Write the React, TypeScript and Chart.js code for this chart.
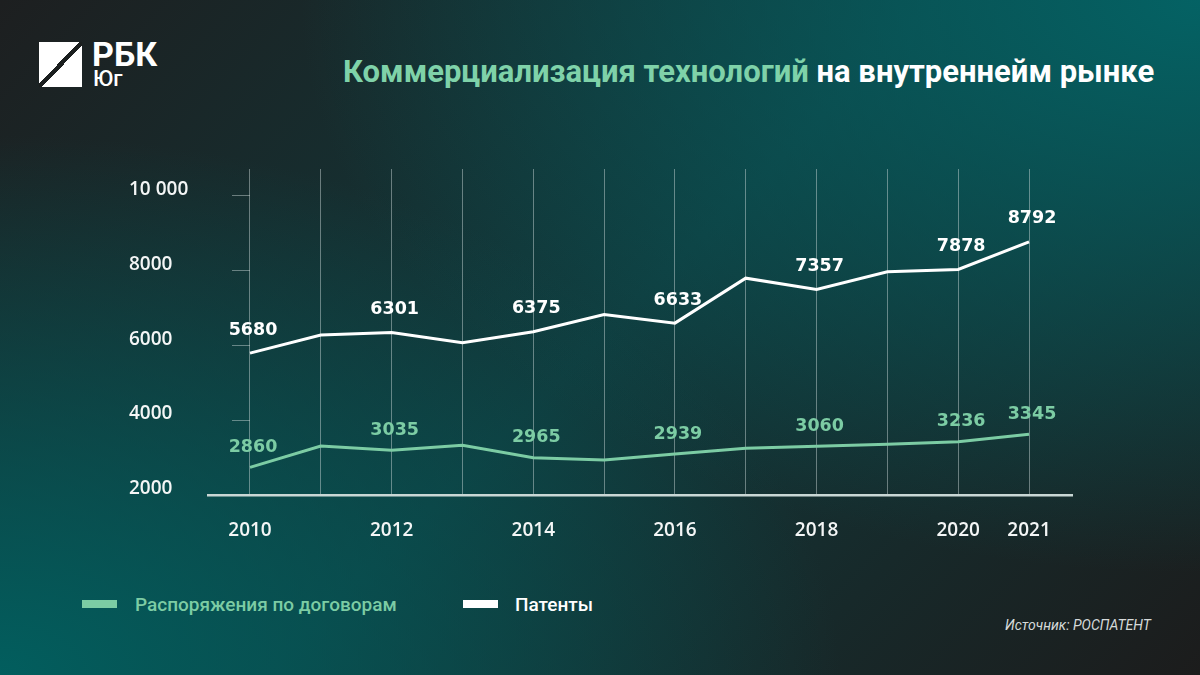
import React, { useEffect, useRef } from "react";
import { Chart, registerables } from "chart.js";

Chart.register(...registerables);

// ---- data ----
const years = [2010, 2011, 2012, 2013, 2014, 2015, 2016, 2017, 2018, 2019, 2020, 2021];
const patents = [5787, 6267, 6339, 6061, 6355, 6818, 6587, 7787, 7485, 7955, 8018, 8755];
const contracts = [2738, 3307, 3192, 3325, 2995, 2933, 3093, 3245, 3298, 3352, 3421, 3619];
const labelYears = [2010, 2012, 2014, 2016, 2018, 2020, 2021];
const patentLabels = ["5680", "6301", "6375", "6633", "7357", "7878", "8792"];
const contractLabels = ["2860", "3035", "2965", "2939", "3060", "3236", "3345"];
const yTicks = [2000, 4000, 6000, 8000, 10000];
const yTickLabels = ["2000", "4000", "6000", "8000", "10 000"];
const seriesNames = ["Распоряжения по договорам", "Патенты"];

const GREEN = "#7ccca4";
const WHITE = "#ffffff";
const NUM_FONT = "'DejaVu Sans', sans-serif";
const AXIS_FONT = "'Open Sans', 'DejaVu Sans', sans-serif";

const valueLabelsPlugin = {
  id: "valueLabels",
  afterDatasetsDraw(chart: any) {
    const ctx = chart.ctx;
    const sets = [
      { ds: 0, labels: contractLabels, color: GREEN, dy: 20 },
      { ds: 1, labels: patentLabels, color: WHITE, dy: 23 },
    ];
    ctx.save();
    ctx.font = `bold 17.5px ${NUM_FONT}`;
    ctx.textAlign = "center";
    ctx.textBaseline = "middle";
    sets.forEach((s) => {
      const meta = chart.getDatasetMeta(s.ds);
      ctx.fillStyle = s.color;
      labelYears.forEach((yr, k) => {
        const idx = years.indexOf(yr);
        const pt = meta.data[idx];
        if (!pt) return;
        ctx.fillText(s.labels[k], pt.x + 3, pt.y - s.dy);
      });
    });
    ctx.restore();
  },
};

const yTickMarksPlugin = {
  id: "yTickMarks",
  beforeDatasetsDraw(chart: any) {
    const ctx = chart.ctx;
    const xs = chart.scales.x;
    const ys = chart.scales.y;
    const x0 = xs.getPixelForValue(years[0]);
    ctx.save();
    ctx.strokeStyle = "rgba(210,222,222,0.45)";
    ctx.lineWidth = 1;
    yTicks.slice(1).forEach((v) => {
      const y = Math.round(ys.getPixelForValue(v)) + 0.5;
      ctx.beginPath();
      ctx.moveTo(x0 - 18, y);
      ctx.lineTo(x0, y);
      ctx.stroke();
    });
    ctx.restore();
  },
};

function LineChart() {
  const ref = useRef<HTMLCanvasElement | null>(null);
  useEffect(() => {
    if (!ref.current) return;
    const chart = new Chart(ref.current, {
      type: "line",
      data: {
        datasets: [
          {
            label: seriesNames[0],
            data: years.map((x, i) => ({ x, y: contracts[i] })),
            borderColor: GREEN,
            borderWidth: 3,
            pointRadius: 0,
            tension: 0,
            fill: false,
          },
          {
            label: seriesNames[1],
            data: years.map((x, i) => ({ x, y: patents[i] })),
            borderColor: WHITE,
            borderWidth: 3,
            pointRadius: 0,
            tension: 0,
            fill: false,
          },
        ],
      },
      options: {
        animation: false,
        responsive: false,
        events: [],
        layout: { padding: { left: 129, top: 169, right: 128, bottom: 0 } },
        plugins: { legend: { display: false }, tooltip: { enabled: false }, title: { display: false } },
        scales: {
          x: {
            type: "linear",
            min: 2009.407,
            max: 2021.607,
            afterBuildTicks: (scale: any) => {
              scale.ticks = years.map((v) => ({ value: v }));
            },
            afterFit: (scale: any) => {
              scale.height = 60;
            },
            grid: {
              display: true,
              drawOnChartArea: true,
              drawTicks: false,
              color: "rgba(210,222,222,0.45)",
              lineWidth: 1,
            },
            border: { display: true, color: "#c9d7d5", width: 2.5 },
            ticks: {
              autoSkip: false,
              maxRotation: 0,
              padding: 24,
              color: "#f4f6f6",
              font: { family: AXIS_FONT, size: 19, weight: "600" },
              callback: (v: any) => (labelYears.includes(Number(v)) ? String(v) : ""),
            },
          },
          y: {
            type: "linear",
            min: 2000,
            max: 10700,
            afterBuildTicks: (scale: any) => {
              scale.ticks = yTicks.map((v) => ({ value: v }));
            },
            afterFit: (scale: any) => {
              scale.width = 79;
            },
            grid: { display: false, drawTicks: false },
            border: { display: false },
            ticks: {
              crossAlign: "far",
              labelOffset: -6,
              color: "#f4f6f6",
              font: { family: AXIS_FONT, size: 19, weight: "600" },
              callback: (v: any) => {
                const i = yTicks.indexOf(Number(v));
                return i >= 0 ? yTickLabels[i] : "";
              },
            },
          },
        },
      },
      plugins: [yTickMarksPlugin, valueLabelsPlugin],
    } as any);
    return () => chart.destroy();
  }, []);
  return (
    <canvas
      ref={ref}
      width={1200}
      height={555}
      style={{ position: "absolute", left: 0, top: 0, width: 1200, height: 555 }}
    />
  );
}

export default function App() {
  useEffect(() => {
    document.body.style.margin = "0";
  }, []);
  const roboto = "Roboto, 'Noto Sans', sans-serif";
  return (
    <div
      style={{
        position: "relative",
        width: 1200,
        height: 675,
        overflow: "hidden",
        background:
          "radial-gradient(ellipse 75% 85% at 100% 0%, rgba(4,98,100,1) 0%, rgba(4,98,100,0) 100%)," +
          "radial-gradient(ellipse 70% 80% at 0% 100%, rgba(2,94,94,1) 0%, rgba(2,94,94,0) 100%)," +
          "linear-gradient(135deg, #1d1f20 0%, #11393b 50%, #1c1c1c 100%)",
        fontFamily: roboto,
      }}
    >
      {/* logo */}
      <div
        style={{
          position: "absolute",
          left: 39,
          top: 42,
          width: 43,
          height: 45,
          background:
            "linear-gradient(to bottom right, #ffffff 0%, #ffffff 46.5%, #1b1f1f 46.5%, #1b1f1f 53.5%, #ffffff 53.5%, #ffffff 100%)",
        }}
      />
      <div
        style={{
          position: "absolute",
          left: 92,
          top: 37,
          fontSize: 34,
          lineHeight: "34px",
          fontWeight: 700,
          color: "#fff",
        }}
      >
        РБК
      </div>
      <div
        style={{
          position: "absolute",
          left: 93,
          top: 68,
          fontSize: 22,
          lineHeight: "22px",
          fontWeight: 500,
          color: "#fff",
        }}
      >
        Юг
      </div>
      {/* title */}
      <div
        style={{
          position: "absolute",
          left: 343,
          top: 56,
          fontSize: 31,
          lineHeight: "31px",
          fontWeight: 700,
          whiteSpace: "nowrap",
          color: "#fff",
        }}
      >
        <span style={{ color: "#7fd2a9" }}>Коммерциализация технологий</span> на внутреннейм рынке
      </div>

      <LineChart />

      {/* legend */}
      <div style={{ position: "absolute", left: 82, top: 600, width: 35, height: 8, background: GREEN }} />
      <div
        style={{
          position: "absolute",
          left: 135,
          top: 595,
          fontSize: 19,
          lineHeight: "19px",
          fontWeight: 500,
          color: GREEN,
          whiteSpace: "nowrap",
        }}
      >
        {seriesNames[0]}
      </div>
      <div style={{ position: "absolute", left: 463, top: 600, width: 35, height: 8, background: WHITE }} />
      <div
        style={{
          position: "absolute",
          left: 515,
          top: 595,
          fontSize: 19,
          lineHeight: "19px",
          fontWeight: 500,
          color: WHITE,
          whiteSpace: "nowrap",
        }}
      >
        {seriesNames[1]}
      </div>
      {/* source */}
      <div
        style={{
          position: "absolute",
          left: 1005,
          top: 618,
          fontSize: 14,
          lineHeight: "14px",
          fontStyle: "italic",
          color: "#d6dada",
          whiteSpace: "nowrap",
        }}
      >
        Источник: РОСПАТЕНТ
      </div>
    </div>
  );
}
